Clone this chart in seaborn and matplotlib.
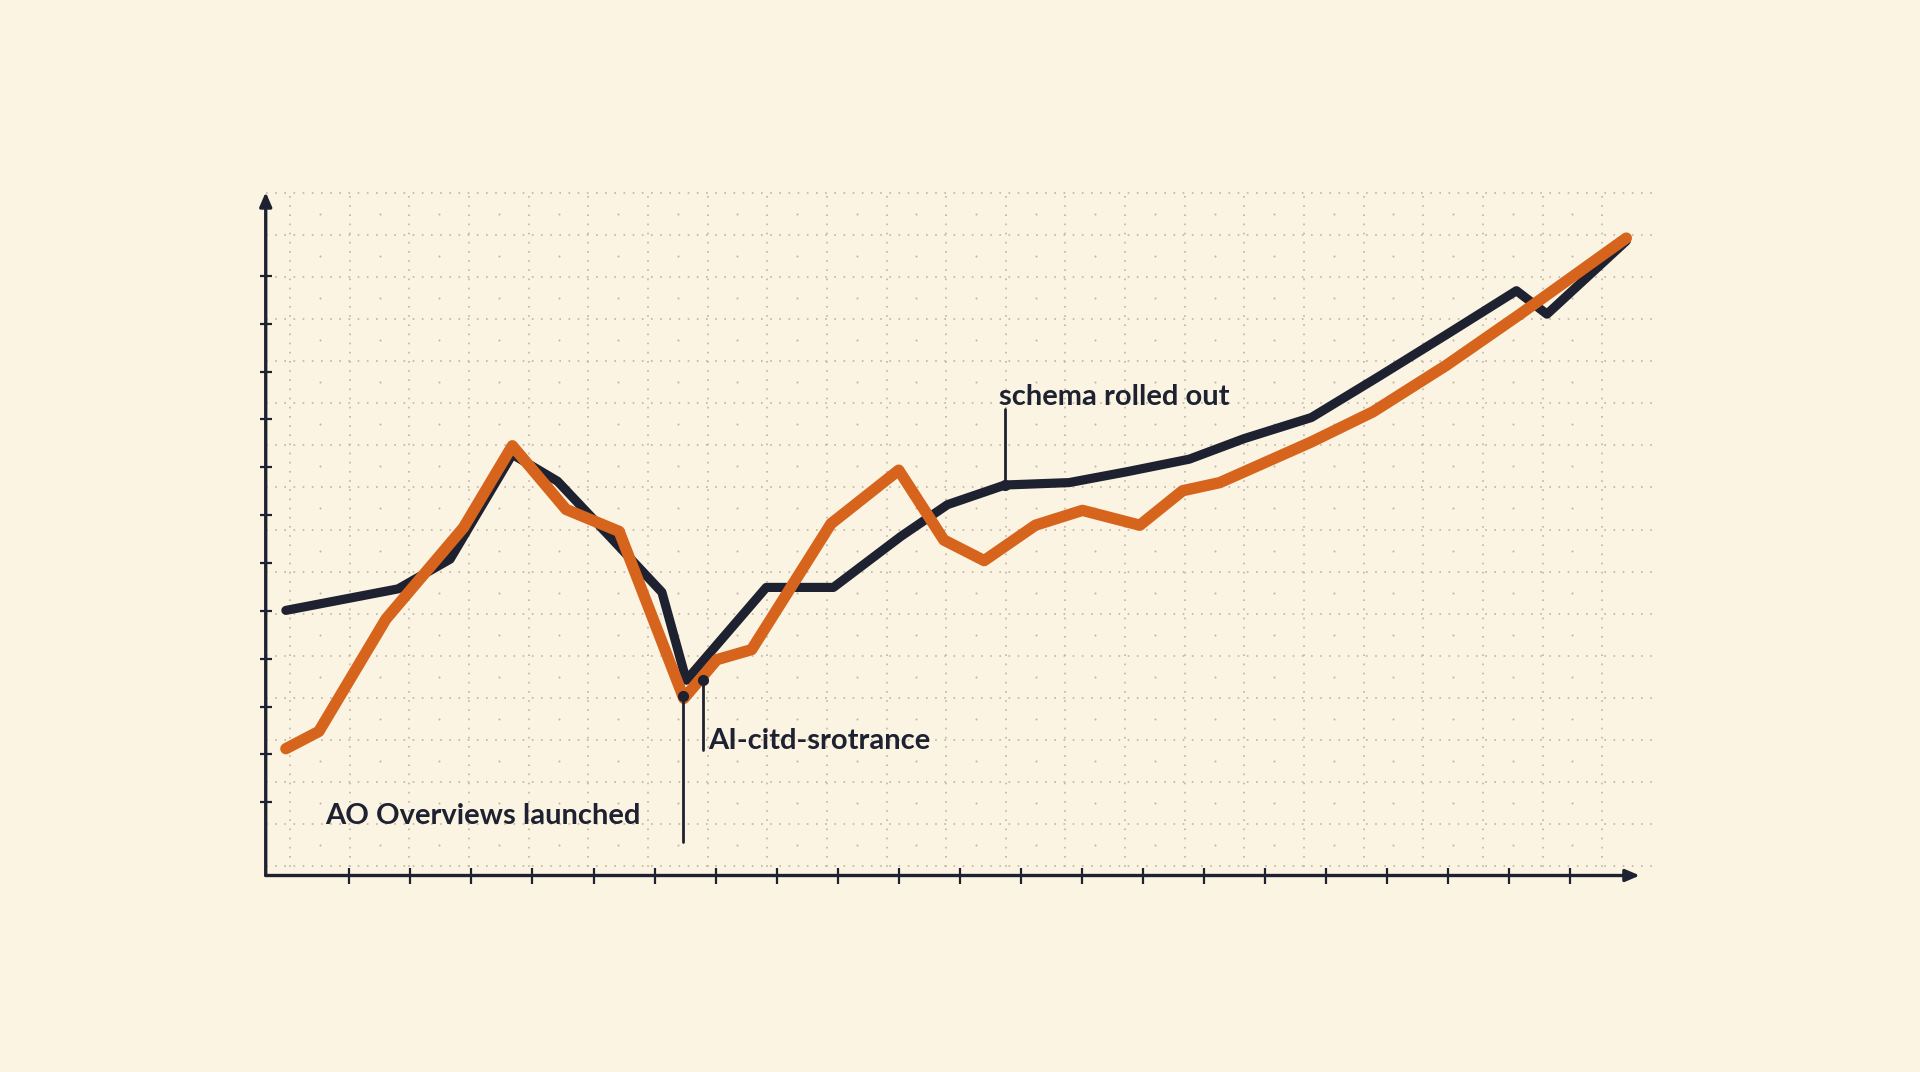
import numpy as np
import pandas as pd
import seaborn as sns
import matplotlib.pyplot as plt

# values (x in tick units, y in tick units)
black_x = [-1.04, 0.80, 1.65, 2.67, 3.41, 4.32, 5.12, 5.52, 6.83, 7.93, 9.04, 9.80,
           10.74, 11.79, 12.75, 13.76, 14.66, 15.76, 16.87, 17.97, 19.12, 19.62, 20.92]
black_y = [5.01, 5.46, 6.08, 8.27, 7.71, 6.48, 5.39, 3.55, 5.49, 5.49, 6.56, 7.22,
           7.63, 7.68, 7.91, 8.17, 8.60, 9.04, 9.90, 10.77, 11.69, 11.20, 12.73]

orange_x = [-1.04, -0.50, 0.60, 1.87, 2.67, 3.55, 4.42, 5.48, 6.02, 6.59, 7.89, 9.00,
            9.74, 10.40, 11.24, 12.01, 12.95, 13.65, 14.26, 15.76, 16.77, 17.97, 19.18, 20.92]
orange_y = [2.12, 2.48, 4.83, 6.74, 8.45, 7.12, 6.66, 3.17, 3.98, 4.19, 6.82, 7.94,
            6.48, 6.05, 6.79, 7.10, 6.79, 7.51, 7.68, 8.53, 9.16, 10.13, 11.20, 12.79]

x_ticks = list(range(0, 21))
y_ticks = list(range(1, 13))

# annotations: label, text x, text y, line x, line y from, line y to
note_labels = ["AO Overviews launched", "AI-citd-srotrance", "schema rolled out"]
note_text_x = [-0.40, 5.88, 10.64]
note_text_y = [0.72, 2.28, 9.47]
note_line_x = [5.46, 5.80, 10.74]
note_line_y0 = [3.22, 3.55, 7.63]
note_line_y1 = [0.16, 2.10, 9.21]

BG = "#fcf4e3"
INK = "#1d2130"
ORANGE = "#d6641d"
GRID = "#bdb5a6"

sns.set_theme(style="white", rc={"figure.facecolor": BG, "axes.facecolor": BG})
plt.rcParams["font.family"] = ["Lato", "DejaVu Sans"]

df = pd.concat([
    pd.DataFrame({"x": black_x, "y": black_y, "series": "black"}),
    pd.DataFrame({"x": orange_x, "y": orange_y, "series": "orange"}),
])

fig = plt.figure(figsize=(19.2, 10.72), dpi=100)
ax = fig.add_axes([0.1384, 0.1833, 0.7239, 0.6397])

xmin, xmax = -1.37, 21.4
ymin, ymax = -0.53, 13.8

# dotted paper grid (independent of the ticks)
gx = np.arange(-0.97, xmax, 0.977)
gy = np.arange(13.74, ymin, -0.88)
for v in gx:
    ax.axvline(v, color=GRID, linestyle=(0, (1, 4.5)), linewidth=1.2, zorder=0)
for h in gy:
    ax.axhline(h, color=GRID, linestyle=(0, (1, 4.5)), linewidth=1.2, zorder=0)
cx, cy = np.meshgrid(gx[:-1] + 0.977 / 2, gy[:-1] - 0.44)
ax.scatter(cx.ravel(), cy.ravel(), s=2.2, color=GRID, linewidths=0, zorder=0)

sns.lineplot(data=df[df.series == "black"], x="x", y="y", sort=False, ax=ax,
             color=INK, linewidth=6.6, solid_capstyle="round", solid_joinstyle="round")
sns.lineplot(data=df[df.series == "orange"], x="x", y="y", sort=False, ax=ax,
             color=ORANGE, linewidth=8.2, solid_capstyle="round", solid_joinstyle="round")

for i, lab in enumerate(note_labels):
    ax.plot([note_line_x[i], note_line_x[i]], [note_line_y0[i], note_line_y1[i]],
            color=INK, linewidth=2, zorder=5)
    ax.plot(note_line_x[i], note_line_y0[i], "o", color=INK, markersize=7, zorder=6)
    ax.text(note_text_x[i], note_text_y[i], lab, fontsize=21, fontweight="bold",
            color=INK, va="center", ha="left", zorder=6)

ax.set_xlim(xmin, xmax)
ax.set_ylim(ymin, ymax)
ax.set_xticks(x_ticks)
ax.set_yticks(y_ticks)
ax.set_xticklabels([])
ax.set_yticklabels([])
ax.tick_params(axis="x", direction="inout", length=11.5, width=1.6, color=INK, bottom=True)
ax.tick_params(axis="y", direction="inout", length=9, width=1.6, color=INK, left=True)
ax.set_xlabel("")
ax.set_ylabel("")

for s in ax.spines.values():
    s.set_visible(False)

# axis lines with arrowheads
ax.annotate("", xy=(0.9886, 0), xytext=(0, 0), xycoords="axes fraction",
            arrowprops=dict(arrowstyle="-|>,head_length=0.7,head_width=0.3", color=INK, lw=2.4,
                            shrinkA=0, shrinkB=0), annotation_clip=False)
ax.annotate("", xy=(0, 0.9965), xytext=(0, 0), xycoords="axes fraction",
            arrowprops=dict(arrowstyle="-|>,head_length=0.7,head_width=0.3", color=INK, lw=2.4,
                            shrinkA=0, shrinkB=0), annotation_clip=False)

fig.savefig("out.png", dpi=100, facecolor=BG)
